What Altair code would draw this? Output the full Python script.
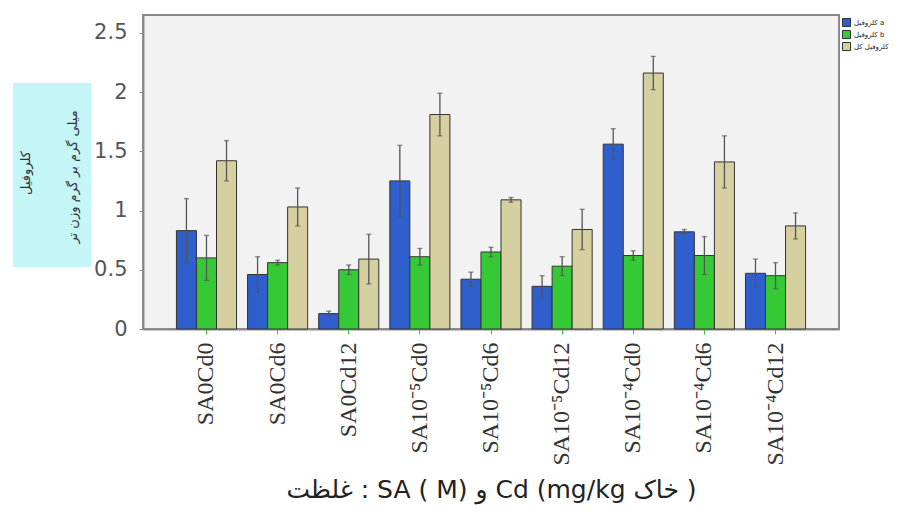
import altair as alt
import pandas as pd

categories = ["SA0Cd0", "SA0Cd6", "SA0Cd12",
              "SA10⁻⁵Cd0", "SA10⁻⁵Cd6", "SA10⁻⁵Cd12",
              "SA10⁻⁴Cd0", "SA10⁻⁴Cd6", "SA10⁻⁴Cd12"]
series = ["کلروفیل a", "کلروفیل b", "کلروفیل کل"]
chl_a = [0.83, 0.46, 0.13, 1.25, 0.42, 0.36, 1.56, 0.82, 0.47]
chl_a_err = [0.27, 0.15, 0.02, 0.30, 0.06, 0.09, 0.13, 0.02, 0.12]
chl_b = [0.60, 0.56, 0.50, 0.61, 0.65, 0.53, 0.62, 0.62, 0.45]
chl_b_err = [0.19, 0.02, 0.04, 0.07, 0.04, 0.08, 0.04, 0.16, 0.11]
chl_t = [1.42, 1.03, 0.59, 1.81, 1.09, 0.84, 2.16, 1.41, 0.87]
chl_t_err = [0.17, 0.16, 0.21, 0.18, 0.02, 0.17, 0.14, 0.22, 0.11]
colors = ["#2f5fcc", "#36c936", "#d6cf9f"]
y_ticks = [0, 0.5, 1, 1.5, 2, 2.5]
y_title_1 = "کلروفیل"
y_title_2 = "میلی گرم بر گرم وزن تر"
# LRM keeps the line left-to-right, as in the reference
x_title = "\u200eغلظت : SA ( M) و Cd (mg/kg خاک )"

rows = []
for vals, errs, s in [(chl_a, chl_a_err, series[0]),
                      (chl_b, chl_b_err, series[1]),
                      (chl_t, chl_t_err, series[2])]:
    for c, v, e in zip(categories, vals, errs):
        rows.append({"cat": c, "series": s, "value": v,
                     "lo": v - e, "hi": v + e})
df = pd.DataFrame(rows)

x_enc = alt.X("cat:N", sort=categories,
              scale=alt.Scale(paddingInner=0.155, paddingOuter=0.47),
              axis=alt.Axis(title=x_title, labelAngle=270, labelAlign="right",
                            labelBaseline="middle", labelFont="Liberation Serif",
                            labelFontSize=24, labelColor="#333", labelPadding=8,
                            tickColor="#3c3", tickSize=5, domainColor="#8a8a8a",
                            domainWidth=2, titleFont="DejaVu Sans",
                            titleFontSize=25, titleFontWeight="normal",
                            titleColor="#222", titleY=160,
                            titleBaseline="middle"))
xo_enc = alt.XOffset("series:N", sort=series,
                     scale=alt.Scale(paddingInner=0, paddingOuter=0))

base = alt.Chart(df)

bars = base.mark_bar(stroke="#333", strokeWidth=1).encode(
    x=x_enc,
    xOffset=xo_enc,
    y=alt.Y("value:Q", scale=alt.Scale(domain=[0, 2.65], nice=False),
            axis=alt.Axis(title=None, values=y_ticks, format="~g", grid=False,
                          labelFont="DejaVu Sans", labelFontSize=21,
                          labelColor="#555", labelPadding=12, tickSize=4,
                          tickColor="#8a8a8a", domainColor="#8a8a8a",
                          domainWidth=2)),
    color=alt.Color("series:N", sort=series,
                    scale=alt.Scale(domain=series, range=colors),
                    legend=alt.Legend(title=None, orient="none", legendX=699,
                                      legendY=3, symbolType="square",
                                      symbolSize=64, symbolStrokeColor="#333",
                                      symbolStrokeWidth=1, labelFontSize=7,
                                      labelFont="DejaVu Sans", rowPadding=3,
                                      clipHeight=9, labelOffset=3,
                                      labelColor="#222")),
)

err = base.mark_rule(color="#555", strokeWidth=1.3).encode(
    x=alt.X("cat:N", sort=categories), xOffset=xo_enc,
    y="lo:Q", y2="hi:Q")
cap_hi = base.mark_tick(color="#555", size=5, thickness=1.3,
                        orient="horizontal").encode(
    x=alt.X("cat:N", sort=categories), xOffset=xo_enc, y="hi:Q")
cap_lo = base.mark_tick(color="#555", size=5, thickness=1.3,
                        orient="horizontal").encode(
    x=alt.X("cat:N", sort=categories), xOffset=xo_enc, y="lo:Q")

one = pd.DataFrame({"t1": [y_title_1], "t2": [y_title_2]})
box = alt.Chart(one).mark_rect(color="#c4f6f8").encode(
    x=alt.value(-130), x2=alt.value(-52), y=alt.value(68), y2=alt.value(252))
t1 = alt.Chart(one).mark_text(angle=270, font="DejaVu Sans", fontSize=13,
                              color="#333").encode(
    x=alt.value(-117), y=alt.value(158), text="t1:N")
t2 = alt.Chart(one).mark_text(angle=270, font="DejaVu Sans", fontSize=13,
                              color="#333").encode(
    x=alt.value(-70), y=alt.value(162), text="t2:N")

chart = alt.layer(box, t1, t2, bars, err, cap_hi, cap_lo).properties(
    width=696, height=314,
    autosize=alt.AutoSizeParams(type="none"),
    padding={"left": 135, "top": 7, "right": 54, "bottom": 178},
    background="white",
).configure_view(fill="#f2f2f2", stroke="#8a8a8a", strokeWidth=2)

chart.save("out.html", embed_options={"renderer": "svg", "actions": False})
